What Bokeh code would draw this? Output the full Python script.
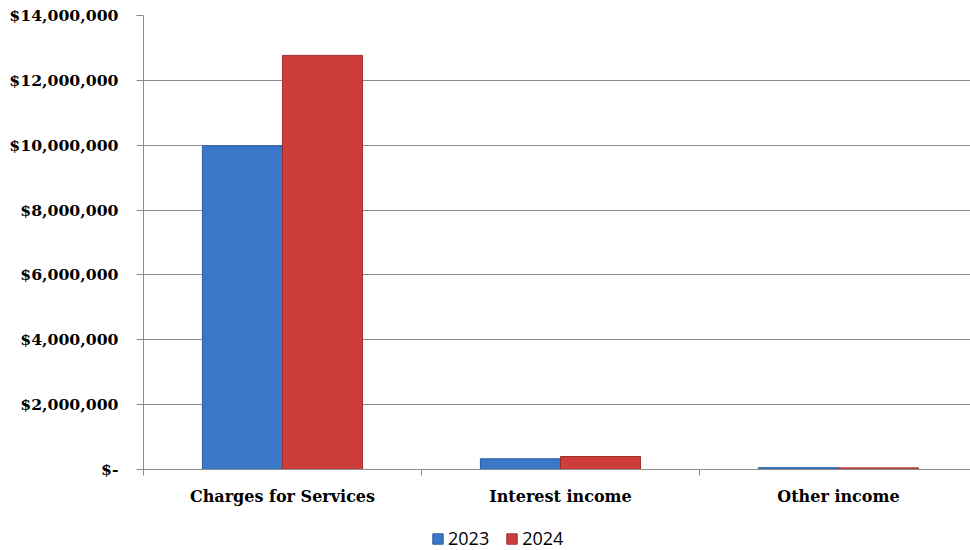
from bokeh.plotting import figure
from bokeh.layouts import column
from bokeh.models import (Range1d, FixedTicker, NumeralTickFormatter, Legend,
                          LegendItem, ColumnDataSource)
from bokeh.transform import dodge
from bokeh.embed import file_html
from bokeh.resources import INLINE

categories = ["Charges for Services", "Interest income", "Other income"]
years = ["2023", "2024"]
values_2023 = [9980000, 330000, 55000]
values_2024 = [12770000, 400000, 50000]
y_ticks = [0, 2000000, 4000000, 6000000, 8000000, 10000000, 12000000, 14000000]

colors = ["#3A77C8", "#CD3E3B"]
edges = ["#2B5C9E", "#9E2E2C"]

x_centers = [i + 0.5 for i in range(len(categories))]
x_bounds = list(range(len(categories) + 1))

src = ColumnDataSource(dict(x=x_centers, v2023=values_2023, v2024=values_2024))

p = figure(width=970, height=510,
           x_range=Range1d(0, 2.975), y_range=Range1d(0, 14000000),
           output_backend="svg", toolbar_location=None,
           min_border_left=143, min_border_right=0,
           min_border_top=15, min_border_bottom=41)
p.outline_line_color = None
p.background_fill_color = "white"
p.border_fill_color = "white"

bw = 0.288
r1 = p.vbar(x=dodge("x", -bw / 2, range=p.x_range), top="v2023", width=bw,
            source=src, fill_color=colors[0], line_color=edges[0], line_width=1)
r2 = p.vbar(x=dodge("x", bw / 2, range=p.x_range), top="v2024", width=bw,
            source=src, fill_color=colors[1], line_color=edges[1], line_width=1)

grid_col = "#8c8c8c"
p.xgrid.visible = False
p.ygrid.ticker = FixedTicker(ticks=y_ticks)
p.ygrid.grid_line_color = grid_col
p.ygrid.grid_line_width = 1

yax = p.yaxis[0]
yax.ticker = FixedTicker(ticks=y_ticks)
yax.formatter = NumeralTickFormatter(format="$0,0")
yax.major_label_overrides = {0: "$-"}
yax.axis_line_color = grid_col
yax.major_tick_line_color = grid_col
yax.major_tick_out = 7
yax.major_tick_in = 0
yax.minor_tick_line_color = None
yax.major_label_standoff = 18
yax.major_label_text_font = "DejaVu Serif"
yax.major_label_text_font_style = "bold"
yax.major_label_text_font_size = "15.7px"
yax.major_label_text_color = "black"

xax = p.xaxis[0]
xax.ticker = FixedTicker(ticks=x_centers, minor_ticks=x_bounds)
xax.major_label_overrides = {c: name for c, name in zip(x_centers, categories)}
xax.axis_line_color = grid_col
xax.major_tick_line_color = None
xax.major_tick_out = 0
xax.major_tick_in = 0
xax.minor_tick_line_color = grid_col
xax.minor_tick_out = 6
xax.minor_tick_in = 0
xax.major_label_standoff = 11
xax.major_label_text_font = "DejaVu Serif"
xax.major_label_text_font_style = "bold"
xax.major_label_text_font_size = "16px"
xax.major_label_text_color = "black"

# legend strip below the chart (renderers hidden; only their legend swatches show)
lg = figure(width=970, height=40, output_backend="svg", toolbar_location=None,
            x_range=Range1d(0, 1), y_range=Range1d(0, 1),
            min_border=0)
lg.axis.visible = False
lg.grid.visible = False
lg.outline_line_color = None
lg.border_fill_color = "white"
d1 = lg.vbar(x="x", top="v2023", width=bw, source=src, visible=False,
             fill_color=colors[0], line_color=edges[0])
d2 = lg.vbar(x="x", top="v2024", width=bw, source=src, visible=False,
             fill_color=colors[1], line_color=edges[1])
legend = Legend(items=[LegendItem(label=years[0], renderers=[d1]),
                       LegendItem(label=years[1], renderers=[d2])],
                orientation="horizontal", location=(288, 0))
legend.inactive_fill_alpha = 0
legend.label_text_font = "Open Sans"
legend.label_text_font_size = "18px"
legend.label_text_color = "black"
legend.glyph_width = 13
legend.glyph_height = 13
legend.label_standoff = 4
legend.spacing = 16
legend.border_line_color = None
legend.background_fill_alpha = 0
legend.padding = 0
legend.margin = 0
lg.add_layout(legend, "center")

layout = column(p, lg, spacing=0)
open("out.html", "w").write(file_html(layout, INLINE))
